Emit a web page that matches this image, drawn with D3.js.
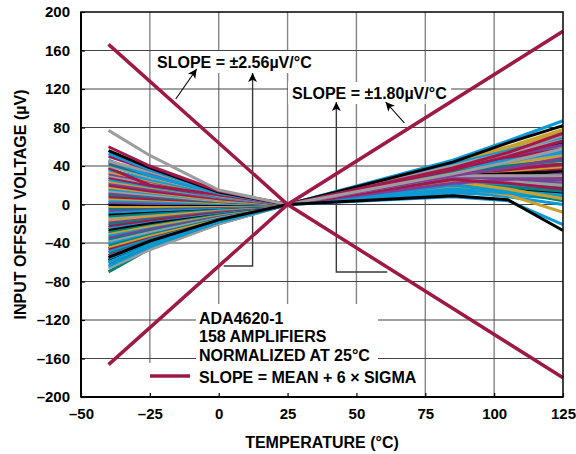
<!DOCTYPE html>
<html><head><meta charset="utf-8">
<script src="https://cdn.jsdelivr.net/npm/d3@7"></script>
<style>
html,body{margin:0;padding:0;background:#fff;}
svg{display:block;font-family:"Liberation Sans",Arial,Helvetica,sans-serif;font-weight:bold;}
</style></head><body><svg id="c" width="576" height="454"></svg>
<script>
// ---------- data ----------
const temps = [-40, -25, 0, 25, 85, 105, 125];
const xTicks = [-50, -25, 0, 25, 50, 75, 100, 125];
const yTicks = [-200, -160, -120, -80, -40, 0, 40, 80, 120, 160, 200];

// offset (µV) of each amplifier at the temps above, normalized at 25°C
const amplifierOffsets = [
  [-70, -46, -20, 0, 14, 16, 15],
  [-66, -47, -20, 0, 18, 22, 24],
  [-64, -44, -18, 0, 12, 10, 6],
  [-61, -42, -18, 0, 22, 28, 34],
  [-58, -40, -17, 0, 16, 14, 10],
  [-56, -39, -16, 0, 20, 25, 30],
  [-53, -37, -15, 0, 26, 33, 40],
  [-50, -36, -15, 0, 24, 26, 28],
  [-48, -34, -14, 0, 30, 40, 52],
  [-46, -33, -14, 0, 18, 20, 22],
  [-44, -32, -14, 0, 28, 36, 46],
  [-42, -30, -13, 0, 20, 16, 12],
  [-40, -29, -12, 0, 32, 42, 55],
  [-38, -28, -12, 0, 34, 46, 60],
  [-36, -26, -11, 0, 22, 24, 26],
  [-34, -25, -11, 0, 26, 30, 36],
  [-32, -23, -10, 0, 14, 8, 0],
  [-30, -22, -10, 0, 30, 34, 38],
  [-28, -20, -9, 0, 24, 22, 18],
  [-26, -19, -8, 0, 18, 16, 12],
  [-24, -17, -8, 0, 36, 48, 62],
  [-22, -16, -7, 0, 28, 32, 36],
  [-20, -14, -6, 0, 26, 28, 30],
  [-18, -13, -6, 0, 32, 40, 48],
  [-16, -12, -5, 0, 40, 52, 66],
  [-14, -10, -4, 0, 36, 44, 52],
  [-12, -9, -4, 0, 20, 14, 4],
  [-10, -7, -3, 0, 38, 50, 64],
  [-8, -6, -3, 0, 24, 20, 14],
  [-6, -4, -2, 0, 34, 38, 42],
  [-4, -3, -1, 0, 26, 24, 20],
  [-2, -2, -1, 0, 18, 10, -8],
  [0, 0, 0, 0, 30, 32, 34],
  [2, 1, 1, 0, 28, 26, 22],
  [4, 3, 1, 0, 16, 12, 8],
  [6, 5, 2, 0, 36, 42, 50],
  [8, 6, 3, 0, 30, 30, 28],
  [10, 8, 3, 0, 22, 18, 14],
  [12, 9, 4, 0, 38, 50, 62],
  [14, 10, 4, 0, 26, 24, 20],
  [16, 12, 5, 0, 20, 14, 10],
  [18, 13, 5, 0, 42, 58, 76],
  [20, 14, 6, 0, 32, 36, 42],
  [22, 16, 7, 0, 28, 28, 26],
  [24, 18, 8, 0, 24, 16, 6],
  [26, 19, 8, 0, 34, 44, 56],
  [28, 20, 9, 0, 40, 48, 58],
  [30, 22, 9, 0, 36, 52, 68],
  [32, 24, 10, 0, 22, 26, 32],
  [34, 25, 10, 0, 44, 60, 78],
  [36, 26, 11, 0, 38, 46, 54],
  [38, 20, 10, 0, 26, 22, 16],
  [40, 28, 12, 0, 30, 30, 30],
  [42, 30, 12, 0, 34, 40, 46],
  [44, 32, 13, 0, 30, 38, 48],
  [46, 30, 12, 0, 42, 56, 70],
  [45, 34, 14, 0, 40, 54, 72],
  [50, 36, 14, 0, 36, 50, 66],
  [53, 36, 13, 0, 46, 66, 87],
  [56, 38, 13, 0, 44, 64, 82],
  [60, 40, 14, 0, 38, 54, 74],
  [77, 51, 15, 0, 32, 44, 58],
  [-60, -42, -18, 0, 8, 4, -21],
  [-55, -38, -16, 0, 9, 5, -27]
];
const amplifierColors = [
  "teal","gray","blue","teal","black","blue","purple","teal","blue","maroon",
  "gold","teal","blue","gray","teal","purple","blue","gold","teal","black",
  "blue","maroon","teal","purple","gold","gray","teal","black","blue","purple",
  "teal","gold","black","purple","blue","gold","maroon","teal","purple","gray",
  "blue","gold","maroon","purple","gold","blue","maroon","gray","purple","gold",
  "blue","maroon","gray","teal","purple","blue","gray","maroon","blue","black",
  "maroon","gray","blue","black"
];
const palette = {
  blue: "#0b9ad6", black: "#000000", gray: "#9d9d9d", purple: "#7b3f97",
  teal: "#00807b", gold: "#c9a12e", maroon: "#a3184b"
};

const slopeTemps = [-40, 25, 125];
const slopeUpper = [166.4, 0, -180];
const slopeLower = [-166.4, 0, 180];

const slopeLabelA = "SLOPE = ±2.56µV/°C";
const slopeLabelB = "SLOPE = ±1.80µV/°C";
const noteLines = ["ADA4620-1", "158 AMPLIFIERS", "NORMALIZED AT 25°C"];
const legendLabel = "SLOPE = MEAN + 6 × SIGMA";
const xTitle = "TEMPERATURE (°C)";
const yTitle = "INPUT OFFSET VOLTAGE (µV)";

// ---------- layout ----------
const red = "#9e1a46";
const svg = d3.select("#c");
const x = d3.scaleLinear().domain([-50, 125]).range([81, 563]);
const y = d3.scaleLinear().domain([-200, 200]).range([397, 12]);
const fmt = d => (d < 0 ? "\u2013" + Math.abs(d) : String(d));
const FS = 15;   // tick labels
const FA = 16;   // annotations, titles

// gridlines
svg.append("g").selectAll("line").data(xTicks.slice(1, -1)).join("line")
  .attr("x1", d => x(d)).attr("x2", d => x(d)).attr("y1", y(200)).attr("y2", y(-200))
  .attr("stroke", "#858585").attr("stroke-width", 1.4);
svg.append("g").selectAll("line").data(yTicks.slice(1, -1)).join("line")
  .attr("y1", d => y(d)).attr("y2", d => y(d)).attr("x1", x(-50)).attr("x2", x(125))
  .attr("stroke", "#454545").attr("stroke-width", 1.1);

const boxLayer = svg.append("g");
const arrowLayer = svg.append("g");
const dataLayer = svg.append("g");
const redLayer = svg.append("g");
const textLayer = svg.append("g");

svg.append("defs").append("marker").attr("id", "ah")
  .attr("viewBox", "0 0 10 10").attr("refX", 10).attr("refY", 5)
  .attr("markerWidth", 12).attr("markerHeight", 9).attr("markerUnits", "userSpaceOnUse")
  .attr("orient", "auto")
  .append("path").attr("d", "M0,0 L10,5 L0,10 L2.5,5 Z").attr("fill", "#000");

// data lines
const line = d3.line().x(d => x(d[0])).y(d => y(d[1]));
dataLayer.selectAll("path").data(amplifierOffsets).join("path")
  .attr("d", vals => line(temps.map((t, i) => [t, vals[i]])))
  .attr("fill", "none")
  .attr("stroke", (d, i) => palette[amplifierColors[i]])
  .attr("stroke-width", 3).attr("stroke-linejoin", "round");

// slope lines
[slopeUpper, slopeLower].forEach(vals => {
  redLayer.append("path")
    .attr("d", line(slopeTemps.map((t, i) => [t, vals[i]])))
    .attr("fill", "none").attr("stroke", red).attr("stroke-width", 3.5);
});

function label(txt, px, py) {
  const t = textLayer.append("text").attr("x", px).attr("y", py)
    .attr("font-size", FA).attr("fill", "#000").text(txt);
  const b = t.node().getBBox();
  boxLayer.append("rect").attr("x", b.x - 4).attr("y", b.y - 3)
    .attr("width", b.width + 8).attr("height", b.height + 5).attr("fill", "#fff");
  return t;
}
label(slopeLabelA, 157, 68);
label(slopeLabelB, 292, 99);

const arrowPaths = [
  [[-15.6, 109.6], [-8.0, 140.8]],
  [[1.8, -63.9], [12.3, -63.9], [12.3, 136.5]],
  [[61.2, -70.1], [42.7, -70.1], [42.7, 106.5]],
  [[67.4, 84.7], [60.6, 106.5]]
];
arrowPaths.forEach((pts, i) => {
  arrowLayer.append("path").attr("d", line(pts)).attr("fill", "none")
    .attr("stroke", i === 1 || i === 2 ? "#3a3a3a" : "#000")
    .attr("stroke-width", i === 1 || i === 2 ? 1.4 : 1.1)
    .attr("marker-end", "url(#ah)");
});

// note block + legend
const noteX = 199;
const noteBase = [323.5, 342, 360.5];
noteLines.forEach((s, i) => {
  textLayer.append("text").attr("x", noteX).attr("y", noteBase[i])
    .attr("font-size", FA).text(s);
});
const lg = textLayer.append("text").attr("x", noteX).attr("y", 383)
  .attr("font-size", FA).text(legendLabel);
boxLayer.append("rect").attr("x", 196).attr("y", 304).attr("width", 182).attr("height", 60).attr("fill", "#fff");
const lb = lg.node().getBBox();
boxLayer.append("rect").attr("x", 140).attr("y", 363).attr("width", lb.x + lb.width + 4 - 140)
  .attr("height", 33).attr("fill", "#fff");
textLayer.append("line").attr("x1", 150).attr("x2", 190).attr("y1", 376).attr("y2", 376)
  .attr("stroke", red).attr("stroke-width", 3.5);

// axes
const ax = svg.append("g").attr("transform", `translate(0,${y(-200)})`)
  .call(d3.axisBottom(x).tickValues(xTicks).tickFormat(fmt).tickSizeInner(-4).tickSizeOuter(0).tickPadding(11));
const ay = svg.append("g").attr("transform", `translate(${x(-50)},0)`)
  .call(d3.axisLeft(y).tickValues(yTicks).tickFormat(fmt).tickSizeInner(-4).tickSizeOuter(0).tickPadding(11));
[ax, ay].forEach(g => {
  g.select(".domain").remove();
  g.selectAll("line").attr("stroke", "#000").attr("stroke-width", 1.2);
  g.selectAll("text").attr("font-size", FS).attr("font-family", null).attr("fill", "#000");
});

// frame
svg.append("rect").attr("x", x(-50)).attr("y", y(200)).attr("width", x(125) - x(-50))
  .attr("height", y(-200) - y(200)).attr("fill", "none").attr("stroke", "#111").attr("stroke-width", 1.6);
svg.append("line").attr("x1", x(-50)).attr("x2", x(-50)).attr("y1", y(200)).attr("y2", y(-200))
  .attr("stroke", "#000").attr("stroke-width", 2);
svg.append("line").attr("x1", x(-50)).attr("x2", x(125)).attr("y1", y(-200)).attr("y2", y(-200))
  .attr("stroke", "#000").attr("stroke-width", 2);

// titles
svg.append("text").attr("x", (x(-50) + x(125)) / 2).attr("y", 448)
  .attr("text-anchor", "middle").attr("font-size", FA).text(xTitle);
svg.append("text").attr("transform", `translate(26,${(y(200) + y(-200)) / 2}) rotate(-90)`)
  .attr("text-anchor", "middle").attr("font-size", FA).text(yTitle);
</script></body></html>
